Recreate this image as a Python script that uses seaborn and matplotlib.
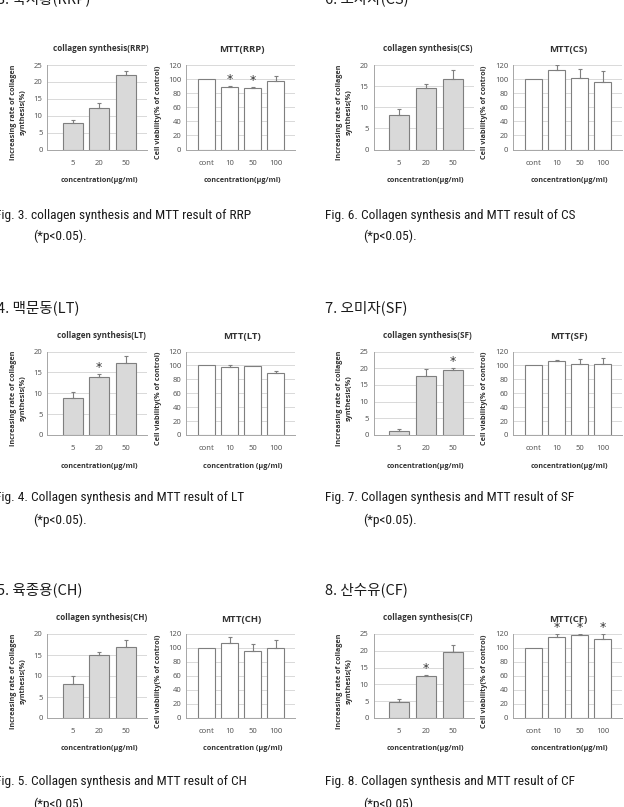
import numpy as np
import pandas as pd
import matplotlib
matplotlib.use('Agg')
import matplotlib.pyplot as plt
import seaborn as sns
from matplotlib import font_manager
from matplotlib.font_manager import FontProperties

# doses on the x axes
coll_doses = ['5', '20', '50']
mtt_doses = ['cont', '10', '50', '100']

# values (mean, upper error, significant bars)
rrp_coll = [7.9, 12.2, 22.1]
rrp_coll_err = [0.9, 1.7, 1.2]
rrp_coll_sig = []
rrp_mtt = [100, 88.8, 87.4, 97.7]
rrp_mtt_err = [0, 1.2, 1.4, 6.3]
rrp_mtt_sig = ['10', '50']

cs_coll = [8.2, 14.5, 16.7]
cs_coll_err = [1.5, 1.0, 2.1]
cs_coll_sig = []
cs_mtt = [100, 112.3, 102.0, 96.4]
cs_mtt_err = [0, 7.7, 12.0, 14.6]
cs_mtt_sig = []

lt_coll = [8.8, 14.0, 17.2]
lt_coll_err = [1.4, 0.5, 1.7]
lt_coll_sig = ['20']
lt_mtt = [100, 98.2, 99.6, 89.8]
lt_mtt_err = [0, 1.8, 0, 2.6]
lt_mtt_sig = []

sf_coll = [1.1, 17.8, 19.6]
sf_coll_err = [0.7, 1.9, 0.5]
sf_coll_sig = ['50']
sf_mtt = [100, 107.0, 102.4, 102.4]
sf_mtt_err = [0, 1.0, 7.4, 7.6]
sf_mtt_sig = []

ch_coll = [8.0, 14.9, 16.8]
ch_coll_err = [2.0, 0.7, 1.8]
ch_coll_sig = []
ch_mtt = [100, 107.6, 96.2, 100.3]
ch_mtt_err = [0, 8.6, 9.5, 11.5]
ch_mtt_sig = []

cf_coll = [4.9, 12.4, 19.6]
cf_coll_err = [0.9, 0.5, 2.0]
cf_coll_sig = ['20']
cf_mtt = [100, 115.5, 119.0, 112.3]
cf_mtt_err = [0, 5.0, 1.3, 8.0]
cf_mtt_sig = ['10', '50', '100']

W, H = 624, 807


def _w(w):
    if isinstance(w, str):
        return font_manager.weight_dict.get(w, 400)
    return w


def find_font(names, bold=False, narrow=False):
    for n in names:
        for f in font_manager.fontManager.ttflist:
            if f.name != n or f.style != 'normal':
                continue
            w = _w(f.weight)
            if bold and w < 600:
                continue
            if not bold and not (350 <= w <= 500):
                continue
            cond = 'condensed' in str(f.stretch) or 'Narrow' in f.name or 'Condensed' in f.name
            if narrow != cond:
                continue
            return f.fname
    return None


bold_file = find_font(['Noto Sans', 'Open Sans', 'Roboto', 'Lato', 'DejaVu Sans'], bold=True)
reg_file = find_font(['Noto Sans', 'Open Sans', 'Roboto', 'Lato', 'DejaVu Sans'])
narrow_names = sorted({f.name for f in font_manager.fontManager.ttflist
                       if 'Narrow' in f.name or 'Condensed' in f.name})
cap_file = find_font(['Liberation Sans Narrow', 'Roboto Condensed', 'Open Sans Condensed',
                      'Noto Sans', 'DejaVu Sans', 'Roboto', 'Open Sans'] + narrow_names, narrow=True)


def fp(path, fallback_family, size, weight='normal'):
    if path:
        return FontProperties(fname=path, size=size)
    return FontProperties(family=fallback_family, size=size, weight=weight)


bold_fp = lambda s: fp(bold_file, 'DejaVu Sans', s, 'bold')
reg_fp = lambda s: fp(reg_file, 'DejaVu Sans', s)
cap_size = 9.6 if cap_file else 7.6
cap_prop = fp(cap_file, 'DejaVu Sans', cap_size)

sns.set_style('white')
plt.rcParams['font.family'] = ['DejaVu Sans']
kr_font = ['Noto Sans CJK KR', 'DejaVu Sans']

TXT = '#333333'
TICK = '#595959'
GRID = '#d9d9d9'
EDGE = '#7f7f7f'
COLL_FILL = '#d9d9d9'

fig = plt.figure(figsize=(W / 100, H / 100), dpi=100)


def fx(x):
    return x / W


def fy(y):
    return 1 - y / H


def make_ax(x0, x1, top, bottom):
    return fig.add_axes([fx(x0), fy(bottom), (x1 - x0) / W, (bottom - top) / H])


def bar_chart(ax, doses, vals, errs, sig, ymax, step, fill, xlim, width):
    df = pd.DataFrame({'dose': doses, 'val': vals})
    sns.barplot(data=df, x='dose', y='val', order=doses, color=fill, saturation=1,
                edgecolor=EDGE, linewidth=0.8, width=width, ax=ax)
    pos = np.arange(len(doses))
    errs = np.array(errs)
    vals = np.array(vals)
    m = errs > 0
    ax.errorbar(pos[m], vals[m], yerr=[np.zeros(m.sum()), errs[m]], fmt='none',
                ecolor=EDGE, elinewidth=0.8, capsize=1.6, capthick=0.8)
    for d in sig:
        i = doses.index(d)
        ax.text(i, vals[i] + errs[i], '*', ha='center', va='bottom',
                fontsize=9, color=TXT, family='DejaVu Sans')
    ax.set_ylim(0, ymax)
    ax.set_yticks(np.arange(0, ymax + 0.1, step))
    ax.set_xlim(*xlim)
    ax.set_xlabel('')
    ax.set_ylabel('')
    ax.set_axisbelow(True)
    ax.yaxis.grid(True, color=GRID, linewidth=0.7)
    ax.xaxis.grid(False)
    for s in ['top', 'right']:
        ax.spines[s].set_visible(False)
    for s in ['left', 'bottom']:
        ax.spines[s].set_color('#a6a6a6')
        ax.spines[s].set_linewidth(0.7)
    ax.tick_params(axis='y', length=0, pad=3.5, labelcolor=TICK)
    ax.tick_params(axis='x', length=0, pad=7.5, labelcolor=TICK)
    for lab in ax.get_xticklabels() + ax.get_yticklabels():
        lab.set_fontproperties(reg_fp(5.5))


panels = [
    # code, column, row, header, caption, collagen, mtt, collagen max, mtt xlabel
    ('RRP', 0, 0, '3. 숙지황(RRP)', 'Fig. 3. collagen synthesis and MTT result of RRP',
     (rrp_coll, rrp_coll_err, rrp_coll_sig), (rrp_mtt, rrp_mtt_err, rrp_mtt_sig), 25, 'concentration(µg/ml)'),
    ('CS', 1, 0, '6. 토사자(CS)', 'Fig. 6. Collagen synthesis and MTT result of CS',
     (cs_coll, cs_coll_err, cs_coll_sig), (cs_mtt, cs_mtt_err, cs_mtt_sig), 20, 'concentration(µg/ml)'),
    ('LT', 0, 1, '4. 맥문동(LT)', 'Fig. 4. Collagen synthesis and MTT result of LT',
     (lt_coll, lt_coll_err, lt_coll_sig), (lt_mtt, lt_mtt_err, lt_mtt_sig), 20, 'concentration (µg/ml)'),
    ('SF', 1, 1, '7. 오미자(SF)', 'Fig. 7. Collagen synthesis and MTT result of SF',
     (sf_coll, sf_coll_err, sf_coll_sig), (sf_mtt, sf_mtt_err, sf_mtt_sig), 25, 'concentration(µg/ml)'),
    ('CH', 0, 2, '5. 육종용(CH)', 'Fig. 5. Collagen synthesis and MTT result of CH',
     (ch_coll, ch_coll_err, ch_coll_sig), (ch_mtt, ch_mtt_err, ch_mtt_sig), 20, 'concentration (µg/ml)'),
    ('CF', 1, 2, '8. 산수유(CF)', 'Fig. 8. Collagen synthesis and MTT result of CF',
     (cf_coll, cf_coll_err, cf_coll_sig), (cf_mtt, cf_mtt_err, cf_mtt_sig), 25, 'concentration(µg/ml)'),
]

row_top = [65, 351.5, 634]
row_bot = [149.5, 435, 718]
header_y = [-1, 308, 590]
caption_y = [(215, 236), (498, 520), (782, 804)]
coll_x = [(47.5, 147), (373.5, 474)]
mtt_x = [(186, 295), (513, 622)]
header_x = [-3, 325]
cap_x = [(-5, 33), (325, 363)]

for code, col, row, header, caption, coll, mtt, cmax, mtt_xlabel in panels:
    top, bot = row_top[row], row_bot[row]

    # collagen synthesis chart
    cx0, cx1 = coll_x[col]
    ax1 = make_ax(cx0, cx1, top, bot)
    bar_chart(ax1, coll_doses, coll[0], coll[1], coll[2], cmax, 5, COLL_FILL,
              (-0.95, 2.8), 0.75)
    ccen = (cx0 + cx1) / 2
    fig.text(fx(ccen + 4), fy(top - 16.5), f'collagen synthesis({code})', ha='center',
             va='center', fontproperties=bold_fp(5.9), color=TXT)
    fig.text(fx(ccen + 2), fy(bot + 31), 'concentration(µg/ml)', ha='center', va='center',
             fontproperties=bold_fp(5.2), color=TXT)
    fig.text(fx(cx0 - 29.5), fy((top + bot) / 2 + 5),
             'Increasing rate of collagen\nsynthesis(%)', rotation=90, ha='center',
             va='center', multialignment='center', linespacing=1.5,
             fontproperties=bold_fp(5.2), color=TXT)

    # MTT chart
    mx0, mx1 = mtt_x[col]
    ax2 = make_ax(mx0, mx1, top, bot)
    bar_chart(ax2, mtt_doses, mtt[0], mtt[1], mtt[2], 120, 20, 'white',
              (-0.9, 3.84), 0.74)
    mcen = (mx0 + mx1) / 2
    fig.text(fx(mcen + 1), fy(top - 15), f'MTT({code})', ha='center', va='center',
             fontproperties=bold_fp(6.8), color=TXT)
    fig.text(fx(mcen + 2), fy(bot + 31), mtt_xlabel, ha='center', va='center',
             fontproperties=bold_fp(5.2), color=TXT)
    fig.text(fx(mx0 - 28), fy((top + bot) / 2 + 5), 'Cell viability(% of control)',
             rotation=90, ha='center', va='center', fontproperties=bold_fp(5.2),
             color=TXT)

    # header and caption
    fig.text(fx(header_x[col]), fy(header_y[row]), header, ha='left', va='center',
             fontsize=10.5, family=kr_font, color='#1a1a1a')
    l1, l2 = caption_y[row]
    fig.text(fx(cap_x[col][0]), fy(l1), caption, ha='left', va='center',
             fontproperties=cap_prop, color='#1a1a1a')
    fig.text(fx(cap_x[col][1]), fy(l2), '(*p<0.05).', ha='left', va='center',
             fontproperties=cap_prop, color='#1a1a1a')

fig.savefig('out.png', dpi=100)
plt.close(fig)
